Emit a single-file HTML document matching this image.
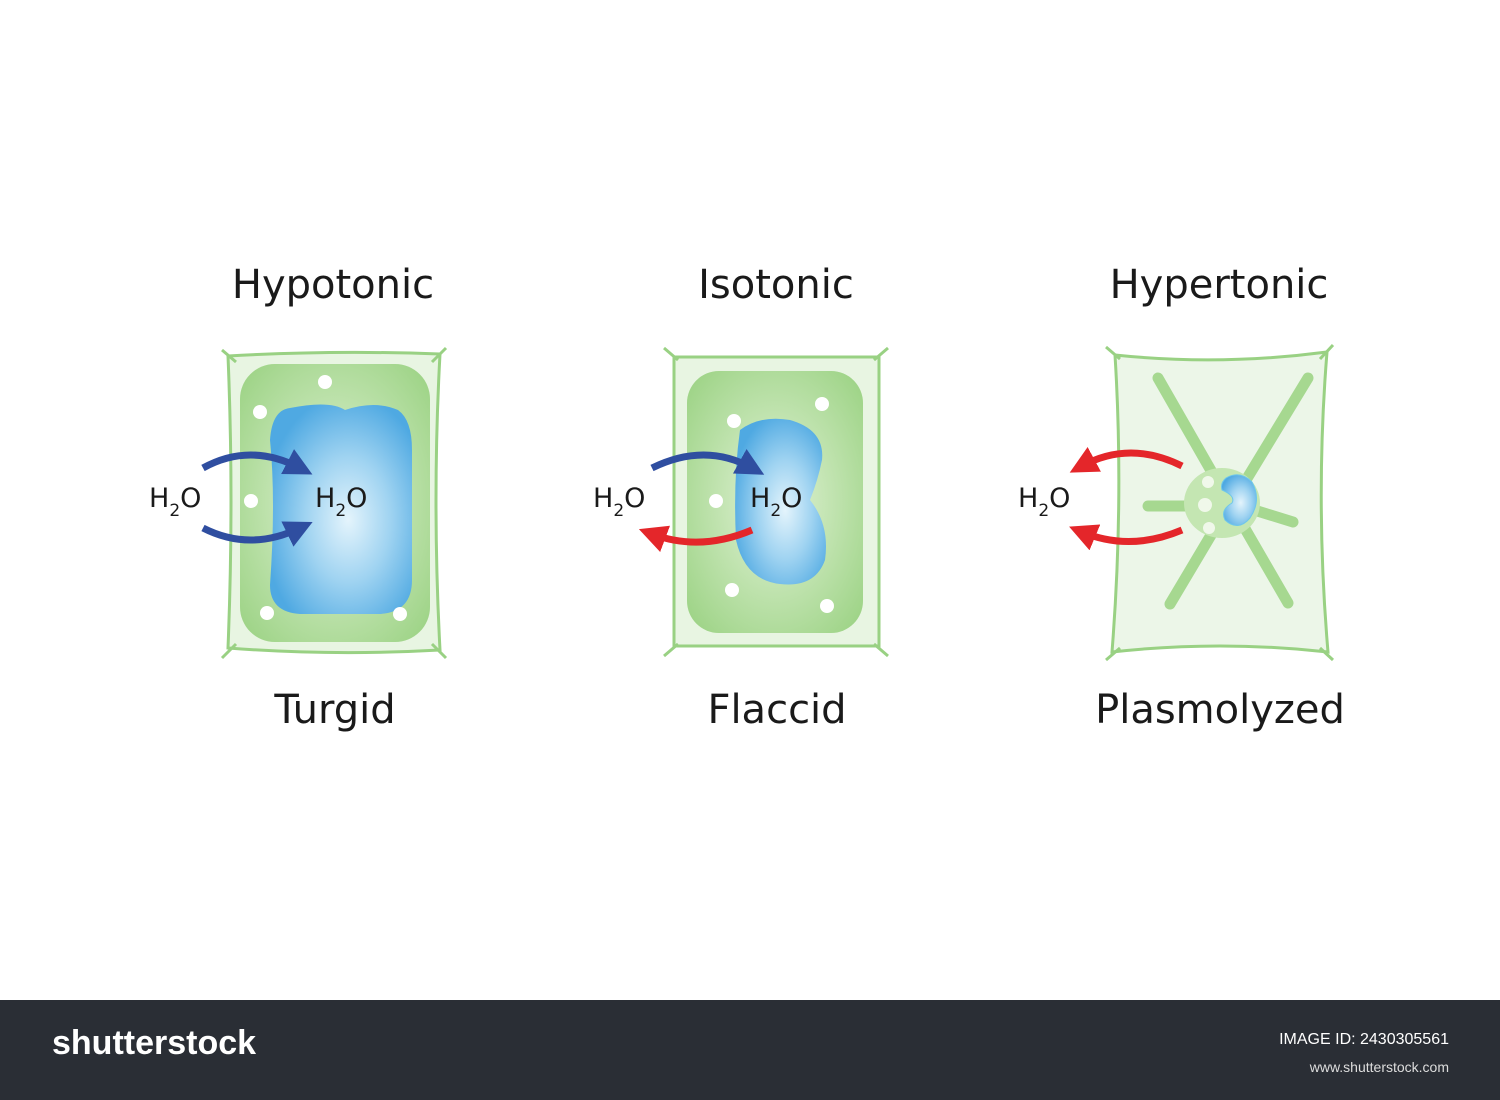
<!DOCTYPE html>
<html><head><meta charset="utf-8"><style>
html,body{margin:0;padding:0;background:#fff;}
svg{display:block;}
</style></head><body>
<svg width="1500" height="1100" viewBox="0 0 1500 1100" xmlns="http://www.w3.org/2000/svg">
<defs>
<radialGradient id="vac" cx="0.55" cy="0.55" r="0.6">
<stop offset="0" stop-color="#e4f4fc"/><stop offset="0.5" stop-color="#9fd3f1"/><stop offset="1" stop-color="#4fa9e2"/>
</radialGradient>
<radialGradient id="cyt" cx="0.5" cy="0.5" r="0.65">
<stop offset="0" stop-color="#e3f3d8"/><stop offset="1" stop-color="#9fd488"/>
</radialGradient>
<marker id="ab" viewBox="0 0 10 10" refX="5" refY="5" markerWidth="4" markerHeight="4" orient="auto"><path d="M0,0 L10,5 L0,10 z" fill="#2f4ea0"/></marker>
<marker id="ar" viewBox="0 0 10 10" refX="5" refY="5" markerWidth="4" markerHeight="4" orient="auto"><path d="M0,0 L10,5 L0,10 z" fill="#e4262a"/></marker>
</defs>
<rect width="1500" height="1100" fill="#fff"/>
<g font-family="'DejaVu Sans','Liberation Sans',sans-serif" fill="#1a1a1a">
<text x="333" y="298" font-size="40" text-anchor="middle">Hypotonic</text>
<text x="776" y="298" font-size="40" text-anchor="middle">Isotonic</text>
<text x="1219" y="298" font-size="40" text-anchor="middle">Hypertonic</text>
<text x="335" y="723" font-size="40" text-anchor="middle">Turgid</text>
<text x="777" y="723" font-size="40" text-anchor="middle">Flaccid</text>
<text x="1220" y="723" font-size="40" text-anchor="middle">Plasmolyzed</text>
</g>
<!-- Cell 1 -->
<g stroke="#99d183" stroke-width="3" fill="none">
<path d="M228,356 Q333,350 440,354 Q432,500 440,650 Q333,656 228,648 Q234,500 228,356 Z" fill="#e8f5e2"/>
<path d="M222,350 L236,362 M446,348 L432,362 M222,658 L236,644 M446,658 L432,644"/>
</g>
<rect x="240" y="364" width="190" height="278" rx="35" fill="url(#cyt)"/>
<path d="M290,408 Q330,400 345,410 Q375,400 398,410 Q412,420 412,450 L412,580 Q412,612 380,614 L300,614 Q270,612 270,585 Q276,500 270,440 Q272,410 290,408 Z" fill="url(#vac)"/>
<g fill="#fff"><circle cx="325" cy="382" r="7"/><circle cx="260" cy="412" r="7"/><circle cx="251" cy="501" r="7"/><circle cx="267" cy="613" r="7"/><circle cx="400" cy="614" r="7"/></g>
<!-- Cell 2 -->
<g stroke="#99d183" stroke-width="3" fill="none">
<path d="M674,357 L879,357 L879,646 L674,646 Z" fill="#e8f5e2"/>
<path d="M664,348 L678,360 M888,348 L874,360 M664,656 L678,644 M888,656 L874,644"/>
</g>
<rect x="687" y="371" width="176" height="262" rx="32" fill="url(#cyt)"/>
<path d="M740,430 Q760,415 790,420 Q825,430 822,460 Q818,480 810,500 Q830,525 825,560 Q815,588 780,584 Q745,580 736,540 Q733,480 740,430 Z" fill="url(#vac)"/>
<g fill="#fff"><circle cx="734" cy="421" r="7"/><circle cx="822" cy="404" r="7"/><circle cx="716" cy="501" r="7"/><circle cx="732" cy="590" r="7"/><circle cx="827" cy="606" r="7"/></g>
<!-- Cell 3 -->
<g stroke="#99d183" stroke-width="3" fill="none">
<path d="M1115,355 Q1220,366 1327,352 Q1315,500 1328,652 Q1220,640 1112,652 Q1124,500 1115,355 Z" fill="#ecf6e8"/>
<path d="M1106,347 L1120,359 M1333,345 L1320,359 M1106,660 L1120,648 M1333,660 L1320,648"/>
</g>
<g stroke="#a6d890" stroke-width="11" stroke-linecap="round" fill="none">
<path d="M1158,378 L1225,495 M1308,378 L1240,490 M1170,604 L1220,520 M1288,603 L1240,520 M1148,506 L1215,506 M1238,505 L1293,522"/>
</g>
<ellipse cx="1222" cy="503" rx="38" ry="35" fill="#c4e6b2"/>
<g fill="#f0f8ea"><circle cx="1208" cy="482" r="6"/><circle cx="1205" cy="505" r="7"/><circle cx="1209" cy="528" r="6"/></g>
<path d="M1226,478 Q1240,470 1252,482 Q1262,500 1250,518 Q1238,532 1225,520 Q1220,510 1232,503 Q1236,496 1222,490 Q1220,483 1226,478 Z" fill="url(#vac)" stroke="#6fc7ea" stroke-width="1"/>
<!-- arrows -->
<g fill="none" stroke-width="7">
<path d="M203,468 Q250,442 300,468" stroke="#2f4ea0" marker-end="url(#ab)"/>
<path d="M203,528 Q250,552 300,528" stroke="#2f4ea0" marker-end="url(#ab)"/>
<path d="M652,468 Q705,442 752,468" stroke="#2f4ea0" marker-end="url(#ab)"/>
<path d="M752,530 Q700,552 652,534" stroke="#e4262a" marker-end="url(#ar)"/>
<path d="M1182,466 Q1130,440 1082,466" stroke="#e4262a" marker-end="url(#ar)"/>
<path d="M1182,530 Q1130,552 1082,532" stroke="#e4262a" marker-end="url(#ar)"/>
</g>
<g font-family="'DejaVu Sans','Liberation Sans',sans-serif" font-size="27" fill="#1a1a1a">
<text x="149" y="507">H<tspan font-size="17" dy="9">2</tspan><tspan dy="-9">O</tspan></text>
<text x="315" y="507">H<tspan font-size="17" dy="9">2</tspan><tspan dy="-9">O</tspan></text>
<text x="593" y="507">H<tspan font-size="17" dy="9">2</tspan><tspan dy="-9">O</tspan></text>
<text x="750" y="507">H<tspan font-size="17" dy="9">2</tspan><tspan dy="-9">O</tspan></text>
<text x="1018" y="507">H<tspan font-size="17" dy="9">2</tspan><tspan dy="-9">O</tspan></text>
</g>
<!-- footer -->
<rect x="0" y="1000" width="1500" height="100" fill="#2a2e35"/>
<text x="52" y="1054" font-family="'Liberation Sans',sans-serif" font-weight="bold" font-size="34" fill="#fff">shutterstock</text>
<text x="1449" y="1044" font-family="'Liberation Sans',sans-serif" font-size="16" fill="#fff" text-anchor="end">IMAGE ID: 2430305561</text>
<text x="1449" y="1072" font-family="'Liberation Sans',sans-serif" font-size="14" fill="#ddd" text-anchor="end">www.shutterstock.com</text>
</svg>
</body></html>
